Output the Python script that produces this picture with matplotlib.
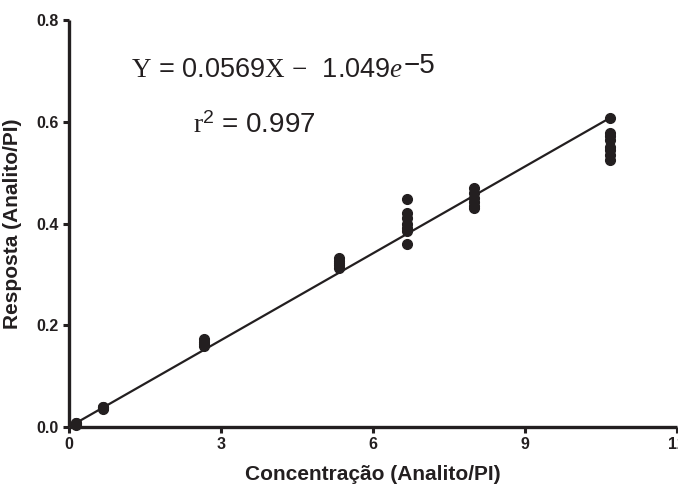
import matplotlib
matplotlib.use("Agg")
import matplotlib.pyplot as plt
import numpy as np

plt.rcParams['font.family'] = ['Liberation Sans', 'DejaVu Sans']
plt.rcParams['mathtext.fontset'] = 'custom'
plt.rcParams['mathtext.rm'] = 'Liberation Serif'
plt.rcParams['mathtext.it'] = 'Liberation Serif:italic'
plt.rcParams['mathtext.sf'] = 'Liberation Sans'

# Data (concentration levels and replicate responses)
conc_levels = [0.13, 0.67, 2.67, 5.33, 6.67, 8.0, 10.67]
responses = [
    [0.004, 0.006, 0.007, 0.008],
    [0.035, 0.037, 0.039, 0.040],
    [0.160, 0.164, 0.168, 0.172],
    [0.313, 0.318, 0.322, 0.327, 0.333],
    [0.360, 0.385, 0.392, 0.400, 0.411, 0.420, 0.449],
    [0.430, 0.435, 0.442, 0.450, 0.460, 0.470],
    [0.525, 0.535, 0.545, 0.550, 0.565, 0.572, 0.578, 0.607],
]
slope = 0.0569
intercept = -1.049e-5
fit_x = [0.0, 10.67]

xticks = [0, 3, 6, 9, 12]
yticks = [0.0, 0.2, 0.4, 0.6, 0.8]
xlabel = "Concentração (Analito/PI)"
ylabel = "Resposta (Analito/PI)"

ink = '#231f20'
fig = plt.figure(figsize=(6.78, 4.84), dpi=100)
ax = fig.add_axes([69/678, 1 - 427/484, (677 - 69)/678, (427 - 20)/484])

xs, ys = [], []
for c, vals in zip(conc_levels, responses):
    xs.extend([c] * len(vals))
    ys.extend(vals)
ax.plot(xs, ys, 'o', color=ink, markersize=7, zorder=3, clip_on=False)

fx = np.array(fit_x)
ax.plot(fx, slope * fx + intercept, '-', color=ink, lw=1.6, zorder=2)

ax.set_xlim(0, 12)
ax.set_ylim(0, 0.8)
ax.set_xticks(xticks)
ax.set_yticks(yticks)
ax.set_xticklabels([str(t) for t in xticks])
ax.set_yticklabels([f"{t:.1f}" for t in yticks])
for lab in ax.get_xticklabels() + ax.get_yticklabels():
    lab.set_fontweight('bold')
    lab.set_fontsize(11.5)
ax.tick_params(direction='out', length=4.5, width=2.2, color=ink, labelcolor=ink, pad=3)
for s in ['top', 'right']:
    ax.spines[s].set_visible(False)
for s in ['left', 'bottom']:
    ax.spines[s].set_linewidth(2.4)
    ax.spines[s].set_color(ink)
    ax.spines[s].set_capstyle('butt')

ax.set_xlabel(xlabel, fontsize=15, fontweight='bold', color=ink, labelpad=9)
ax.set_ylabel(ylabel, fontsize=15, fontweight='bold', color=ink, labelpad=10)

t1 = fig.text(131/678, 1 - 77/484, r"$\mathrm{Y}$ = 0.0569$\mathrm{X}$ $-$  1.049$\mathit{e}$",
              fontsize=19.5, color=ink, va='baseline', ha='left')
ax.annotate("\u22125", xy=(1, 0), xycoords=t1, xytext=(0.5, 3), textcoords='offset points',
            fontsize=20, color=ink, va='bottom', ha='left')
fig.text(193/678, 1 - 133/484, r"$\mathrm{r}^{\mathsf{2}}$ = 0.997",
         fontsize=20, color=ink, va='baseline', ha='left')

fig.savefig("out.png", dpi=100)
